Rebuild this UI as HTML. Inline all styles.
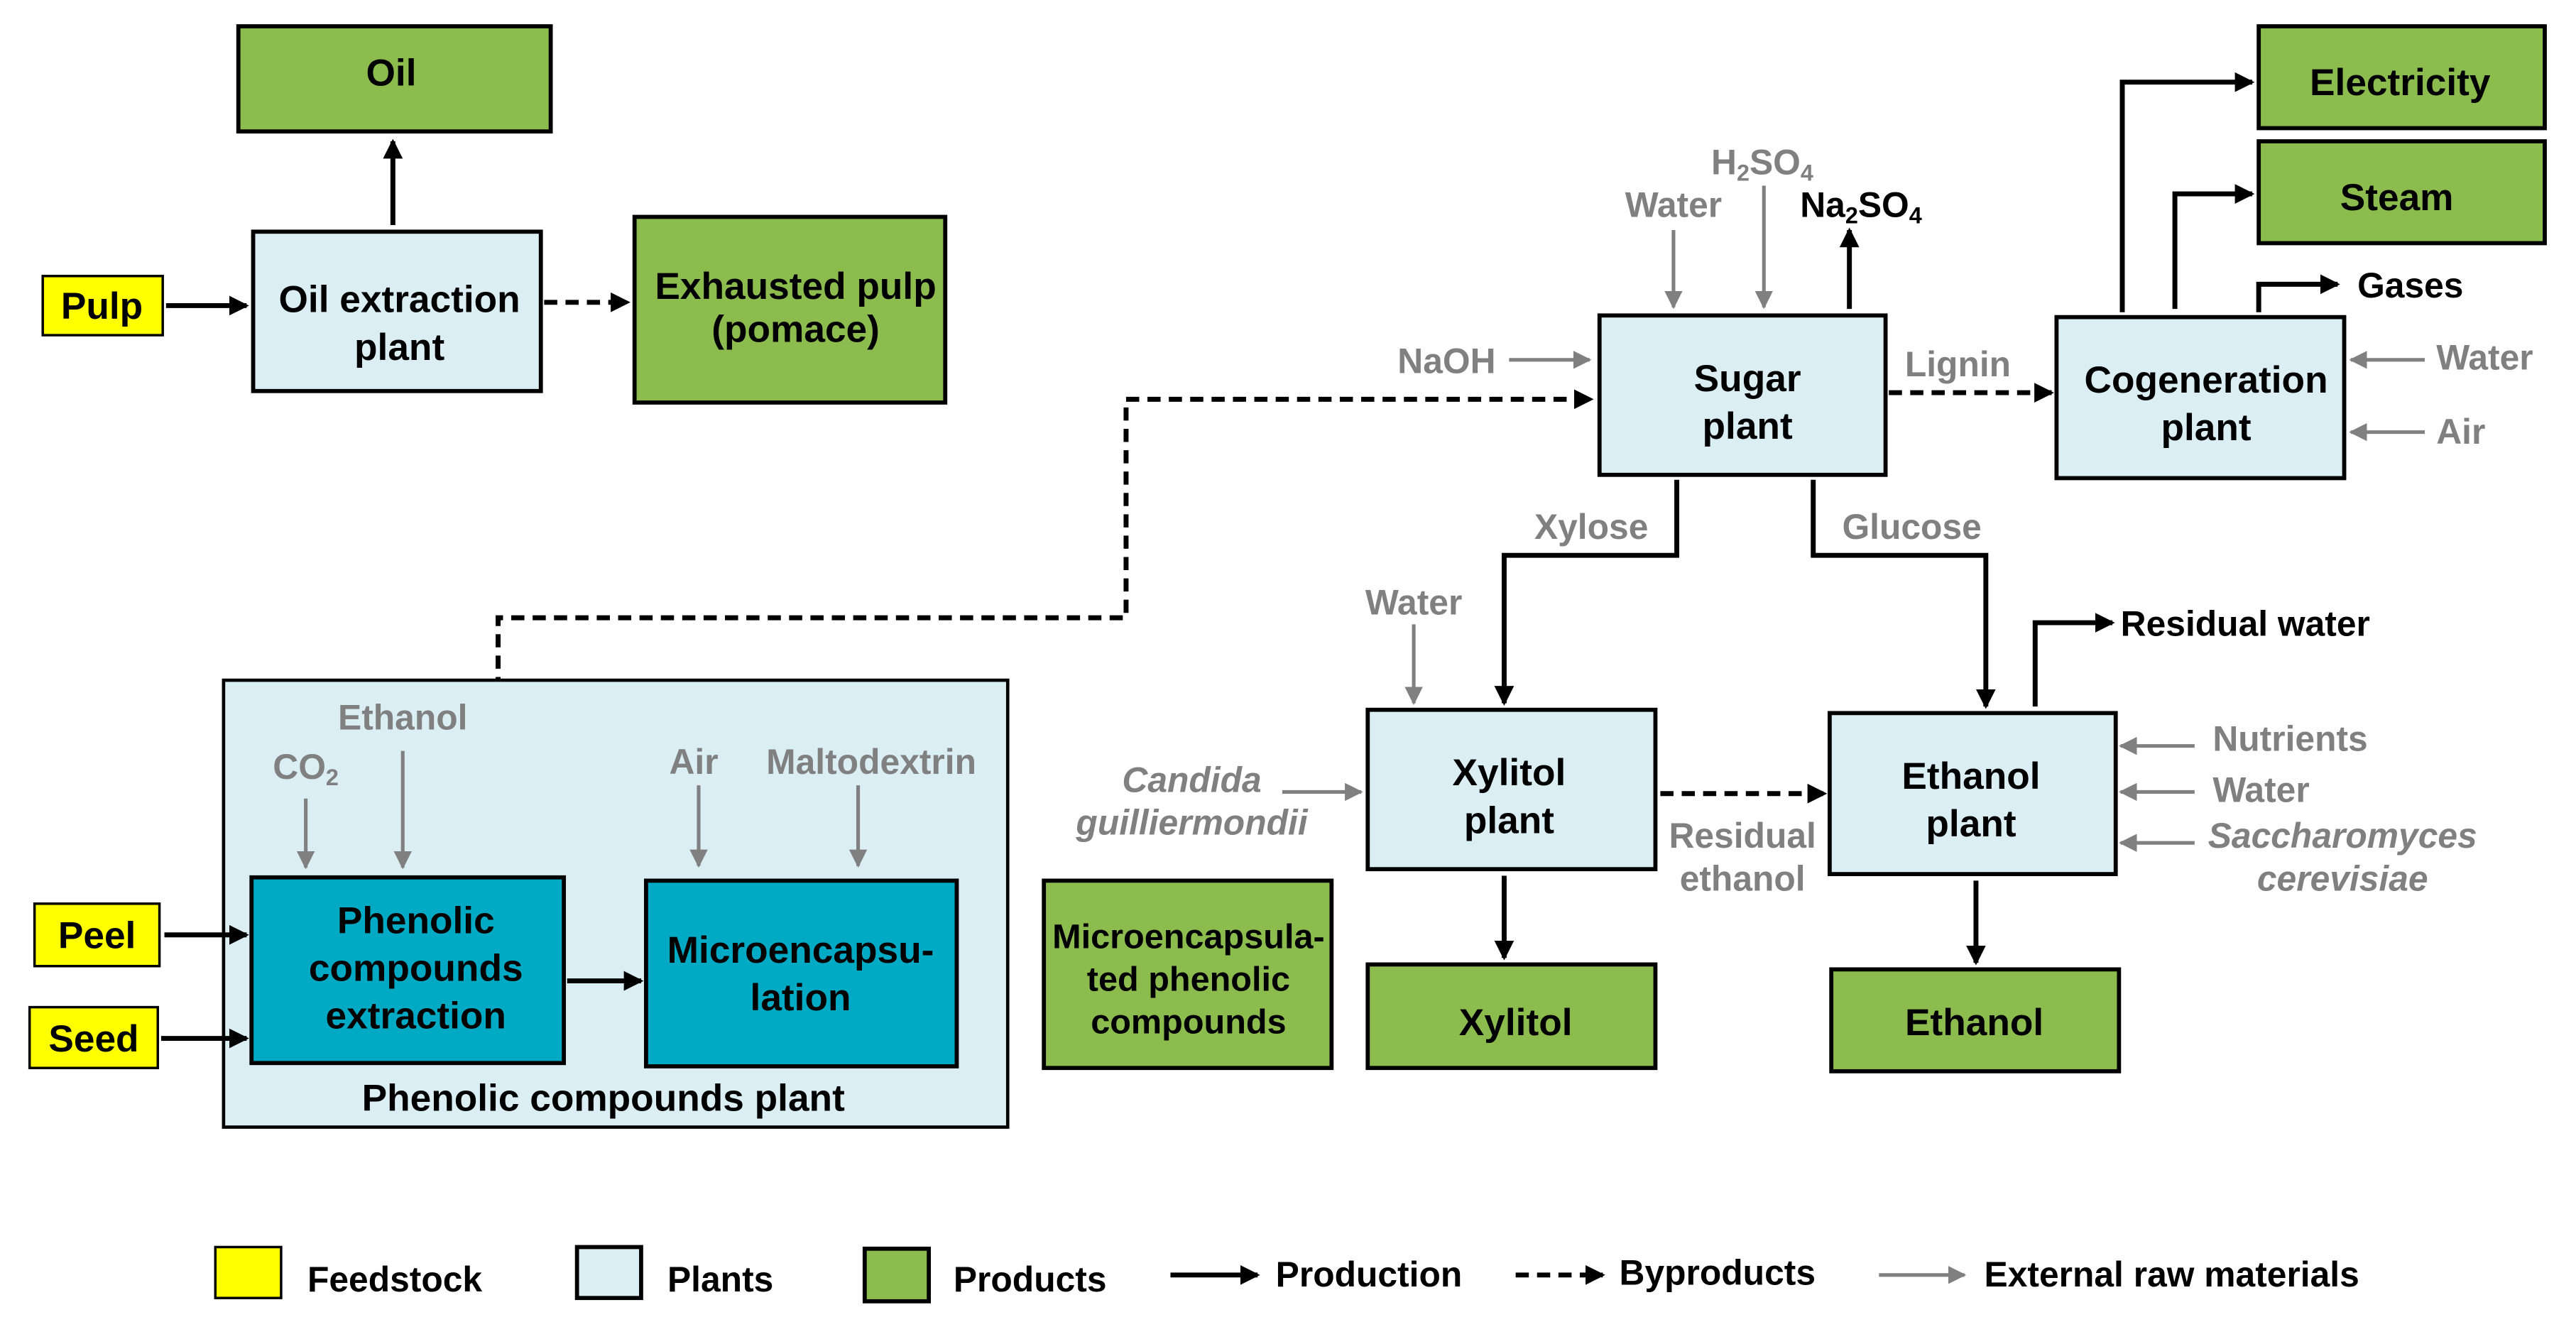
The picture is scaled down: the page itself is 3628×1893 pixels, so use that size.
<!DOCTYPE html>
<html><head><meta charset="utf-8"><style>
html,body{margin:0;padding:0;background:#fff;}
svg{display:block;}
text{font-family:"Liberation Sans",Arial,sans-serif;font-weight:bold;}
.b{font-size:23px;fill:#000;text-anchor:middle;}
.g{font-size:21.5px;fill:#808080;text-anchor:middle;}
.gs{font-size:21.5px;fill:#808080;text-anchor:start;}
.k{font-size:21.5px;fill:#000;}
.i{font-style:italic;}
.pl{fill:#DAEEF3;stroke:#000;stroke-width:2.5;}
.pr{fill:#8CBB4E;stroke:#000;stroke-width:2.5;}
.fs{fill:#FFFF00;stroke:#000;stroke-width:1.5;}
.tl{fill:#00AAC4;stroke:#000;stroke-width:2.5;}
.a{stroke:#000;stroke-width:3;fill:none;marker-end:url(#ab);}
.d{stroke:#000;stroke-width:3;fill:none;stroke-dasharray:8,5;marker-end:url(#ab);}
.x{stroke:#808080;stroke-width:2.2;fill:none;marker-end:url(#ag);}
</style></head><body>
<svg width="3628" height="1893" viewBox="0 0 1567 818" preserveAspectRatio="none" xmlns="http://www.w3.org/2000/svg">
<defs>
<marker id="ab" markerWidth="4" markerHeight="4" refX="3.5" refY="2" orient="auto" markerUnits="strokeWidth"><path d="M0,0 L4,2 L0,4z" fill="#000"/></marker>
<marker id="ag" markerWidth="5" markerHeight="5" refX="4.5" refY="2.5" orient="auto" markerUnits="strokeWidth"><path d="M0,0 L5,2.5 L0,5z" fill="#808080"/></marker>
</defs>
<rect width="1567" height="818" fill="#fff"/>

<rect class="pr" x="145" y="16" width="190" height="64"/><text class="b" x="238" y="52">Oil</text>
<rect class="pl" x="154" y="141" width="175" height="97"/><text class="b" x="243" y="190">Oil extraction</text><text class="b" x="243" y="219">plant</text>
<rect class="pr" x="386" y="132" width="189" height="113"/><text class="b" x="484" y="182">Exhausted pulp</text><text class="b" x="484" y="208">(pomace)</text>
<rect class="fs" x="26" y="168" width="73" height="36"/><text class="b" x="62" y="194">Pulp</text>
<path class="a" d="M101,186 H150"/>
<path class="a" d="M239,137 V86"/>
<path class="d" d="M331,184 H382"/>

<rect class="pl" x="973" y="192" width="174" height="97"/><text class="b" x="1063" y="238">Sugar</text><text class="b" x="1063" y="267">plant</text>
<path class="d" d="M303,524 V376 H685 V243 H968"/>
<path class="x" d="M918,219 H967"/><text class="g" x="880" y="227">NaOH</text>
<path class="x" d="M1018,140 V187"/><text class="g" x="1018" y="132">Water</text>
<path class="x" d="M1073,113 V187"/><text class="g" x="1072" y="106">H<tspan font-size="14" dy="4">2</tspan><tspan dy="-4">SO</tspan><tspan font-size="14" dy="4">4</tspan></text>
<path class="a" d="M1125,188 V140"/><text class="k" x="1095" y="132">Na<tspan font-size="14" dy="4">2</tspan><tspan dy="-4">SO</tspan><tspan font-size="14" dy="4">4</tspan></text>
<path class="d" d="M1149,239 H1248"/><text class="g" x="1191" y="229">Lignin</text>

<rect class="pl" x="1251" y="193" width="175" height="98"/><text class="b" x="1342" y="239">Cogeneration</text><text class="b" x="1342" y="268">plant</text>
<rect class="pr" x="1374" y="16" width="174" height="62"/><text class="b" x="1460" y="58">Electricity</text>
<rect class="pr" x="1374" y="86" width="174" height="62"/><text class="b" x="1458" y="128">Steam</text>
<path class="a" d="M1291,190 V50 H1370"/>
<path class="a" d="M1323,188 V118 H1370"/>
<path class="a" d="M1374,190 V173 H1422"/><text class="k" x="1434" y="181">Gases</text>
<path class="x" d="M1475,219 H1430"/><text class="gs" x="1482" y="225">Water</text>
<path class="x" d="M1475,263 H1430"/><text class="gs" x="1482" y="270">Air</text>

<path class="a" d="M1020,292 V338 H915 V428"/><text class="g" x="968" y="328">Xylose</text>
<path class="a" d="M1103,292 V338 H1208 V430"/><text class="g" x="1163" y="328">Glucose</text>
<rect class="pl" x="832" y="432" width="175" height="97"/><text class="b" x="918" y="478">Xylitol</text><text class="b" x="918" y="507">plant</text>
<rect class="pr" x="832" y="587" width="175" height="63"/><text class="b" x="922" y="630">Xylitol</text>
<path class="x" d="M860,380 V428"/><text class="g" x="860" y="374">Water</text>
<path class="x" d="M780,482 H828"/><text class="g i" x="725" y="482">Candida</text><text class="g i" x="725" y="508">guilliermondii</text>
<path class="d" d="M1010,483 H1110"/><text class="g" x="1060" y="516">Residual</text><text class="g" x="1060" y="542">ethanol</text>
<path class="a" d="M915,533 V583"/>
<rect class="pl" x="1113" y="434" width="174" height="98"/><text class="b" x="1199" y="480">Ethanol</text><text class="b" x="1199" y="509">plant</text>
<rect class="pr" x="1114" y="590" width="175" height="62"/><text class="b" x="1201" y="630">Ethanol</text>
<path class="a" d="M1202,536 V586"/>
<path class="a" d="M1238,430 V379 H1285"/><text class="k" x="1290" y="387">Residual water</text>
<path class="x" d="M1335,454 H1290"/><text class="gs" x="1346" y="457">Nutrients</text>
<path class="x" d="M1335,482 H1290"/><text class="gs" x="1346" y="488">Water</text>
<path class="x" d="M1335,513 H1290"/><text class="g i" x="1425" y="516">Saccharomyces</text><text class="g i" x="1425" y="542">cerevisiae</text>

<rect x="136" y="414" width="477" height="272" fill="#DAEEF3" stroke="#000" stroke-width="2"/>
<rect class="tl" x="153" y="534" width="190" height="113"/><text class="b" x="253" y="568">Phenolic</text><text class="b" x="253" y="597">compounds</text><text class="b" x="253" y="626">extraction</text>
<rect class="tl" x="393" y="536" width="189" height="113"/><text class="b" x="487" y="586">Microencapsu-</text><text class="b" x="487" y="615">lation</text>
<text class="b" x="367" y="676">Phenolic compounds  plant</text>
<path class="x" d="M186,486 V528"/><text class="g" x="186" y="474">CO<tspan font-size="14" dy="4">2</tspan></text>
<path class="x" d="M245,457 V528"/><text class="g" x="245" y="444">Ethanol</text>
<path class="x" d="M425,478 V527"/><text class="g" x="422" y="471">Air</text>
<path class="x" d="M522,478 V527"/><text class="g" x="530" y="471">Maltodextrin</text>
<rect class="fs" x="21" y="550" width="76" height="38"/><text class="b" x="59" y="577">Peel</text>
<rect class="fs" x="18" y="613" width="78" height="37"/><text class="b" x="57" y="640">Seed</text>
<path class="a" d="M100,569 H150"/>
<path class="a" d="M98,632 H150"/>
<path class="a" d="M345,597 H390"/>
<rect class="pr" x="635" y="536" width="175" height="114"/><text class="b" x="723" y="577" style="font-size:21px">Microencapsula-</text><text class="b" x="723" y="603" style="font-size:21px">ted phenolic</text><text class="b" x="723" y="629" style="font-size:21px">compounds</text>

<rect class="fs" x="131" y="759" width="40" height="31"/><text class="k" x="187" y="786">Feedstock</text>
<rect class="pl" x="351" y="759" width="39" height="31" stroke-width="2"/><text class="k" x="406" y="786">Plants</text>
<rect class="pr" x="526" y="760" width="39" height="32" stroke-width="2"/><text class="k" x="580" y="786">Products</text>
<path class="a" d="M712,776 H765"/><text class="k" x="776" y="783">Production</text>
<path class="d" d="M922,776 H975"/><text class="k" x="985" y="782">Byproducts</text>
<path class="x" d="M1143,776 H1195"/><text class="k" x="1207" y="783">External raw materials</text>
</svg>
</body></html>
